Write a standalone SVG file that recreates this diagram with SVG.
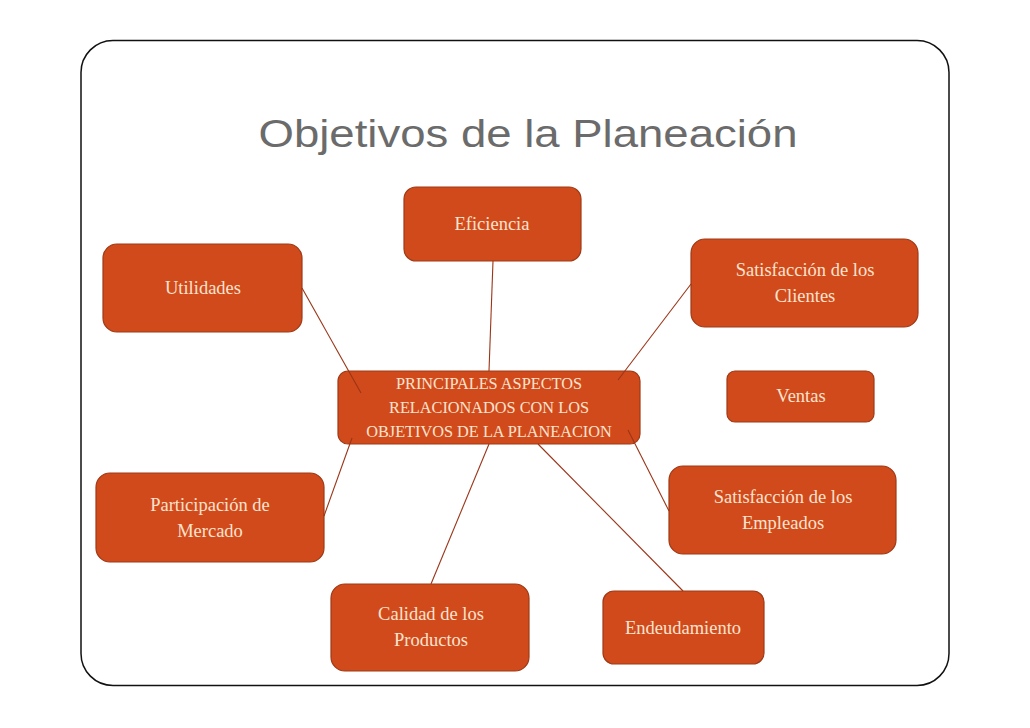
<svg xmlns="http://www.w3.org/2000/svg" width="1030" height="728" viewBox="0 0 1030 728">
<style>
.node rect{fill:#D14A1B;stroke:#9E3A16;stroke-width:1.2}
.node text{fill:#FBE3CF;font-family:"Liberation Serif",serif;font-size:18.5px;text-anchor:middle}
.node text.c{font-size:16.3px}
.conn line{stroke:#9A3517;stroke-width:1.1}
</style>
<rect x="0" y="0" width="1030" height="728" fill="#ffffff"/>
<rect x="81" y="40.5" width="868" height="645" rx="32" fill="none" stroke="#111" stroke-width="1.5"/>
<text x="528" y="147" font-family="Liberation Sans, sans-serif" font-size="38" fill="#6b6b6b" text-anchor="middle" textLength="539" lengthAdjust="spacingAndGlyphs">Objetivos de la Planeación</text>
<g id="n-eficiencia" class="node"><rect x="404" y="187" width="177" height="74" rx="12"/><text x="492" y="230">Eficiencia</text></g>
<g id="n-utilidades" class="node"><rect x="103" y="244" width="199" height="88" rx="14"/><text x="203" y="294">Utilidades</text></g>
<g id="n-clientes" class="node"><rect x="691" y="239" width="227" height="88" rx="14"/><text x="805" y="276">Satisfacción de los</text><text x="805" y="302">Clientes</text></g>
<g id="n-central" class="node"><rect x="338" y="371" width="302" height="73" rx="10"/><text class="c" x="489" y="389">PRINCIPALES ASPECTOS</text><text class="c" x="489" y="413">RELACIONADOS CON LOS</text><text class="c" x="489" y="437">OBJETIVOS DE LA PLANEACION</text></g>
<g id="n-ventas" class="node"><rect x="727" y="371" width="147" height="51" rx="8"/><text x="801" y="402">Ventas</text></g>
<g id="n-mercado" class="node"><rect x="96" y="473" width="228" height="89" rx="14"/><text x="210" y="511">Participación de</text><text x="210" y="537">Mercado</text></g>
<g id="n-empleados" class="node"><rect x="669" y="466" width="227" height="88" rx="14"/><text x="783" y="503">Satisfacción de los</text><text x="783" y="529">Empleados</text></g>
<g id="n-calidad" class="node"><rect x="331" y="584" width="198" height="87" rx="14"/><text x="431" y="620">Calidad  de los</text><text x="431" y="646">Productos</text></g>
<g id="n-endeudamiento" class="node"><rect x="603" y="591" width="161" height="73" rx="11"/><text x="683" y="634">Endeudamiento</text></g>
<g id="connectors" class="conn">
<line x1="493" y1="261" x2="489" y2="371"/>
<line x1="302" y1="288" x2="361" y2="393"/>
<line x1="691" y1="284" x2="618" y2="380"/>
<line x1="324" y1="516" x2="352" y2="438"/>
<line x1="669" y1="511" x2="628" y2="430"/>
<line x1="431" y1="584" x2="489" y2="444"/>
<line x1="683" y1="591" x2="538" y2="444"/>
</g>
</svg>
